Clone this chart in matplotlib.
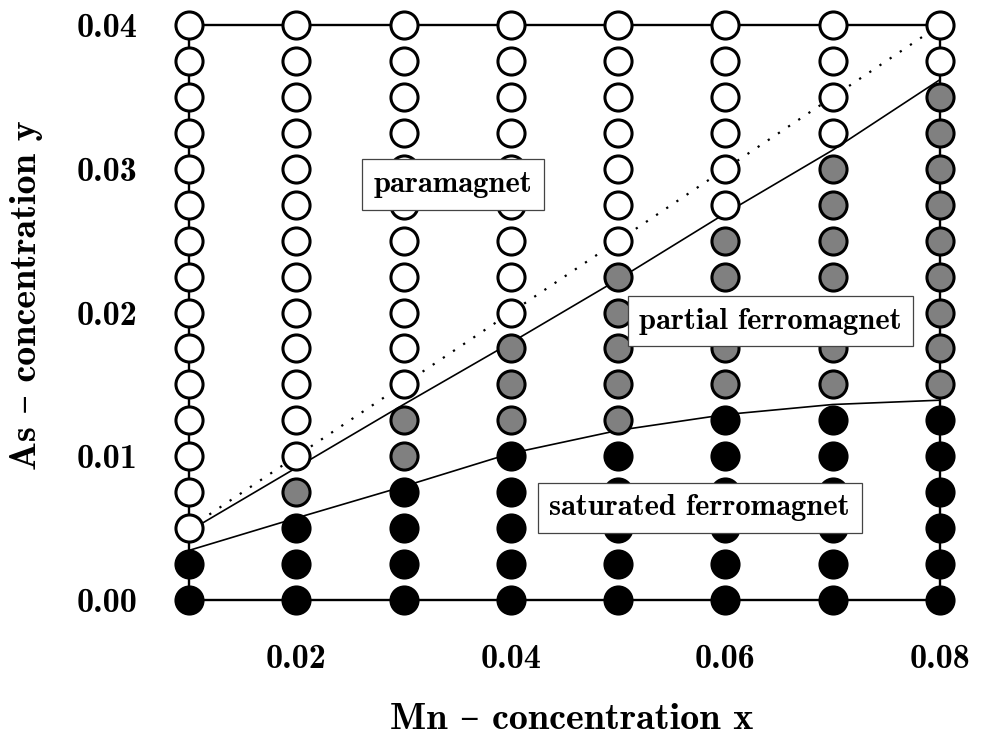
import numpy as np
import matplotlib
matplotlib.use("Agg")
import matplotlib.pyplot as plt

# Mn concentrations (columns) and As concentrations (rows)
mn_x = [0.01, 0.02, 0.03, 0.04, 0.05, 0.06, 0.07, 0.08]
as_y = [0.0, 0.0025, 0.005, 0.0075, 0.01, 0.0125, 0.015, 0.0175, 0.02,
        0.0225, 0.025, 0.0275, 0.03, 0.0325, 0.035, 0.0375, 0.04]

# number of points per column in each phase, counted from y=0 upwards
n_saturated = [2, 3, 4, 5, 5, 6, 6, 6]
n_partial = [0, 1, 2, 3, 5, 5, 7, 9]

# phase boundaries
dotted_y = [0.005, 0.04]
upper_y = [0.0048, 0.0092, 0.0136, 0.0179, 0.0223, 0.0269, 0.0313, 0.0362]
lower_y = [0.00345, 0.0057, 0.0079, 0.0102, 0.0118, 0.0129, 0.0136, 0.0139]

plt.rcParams['font.family'] = ['cmb10', 'DejaVu Serif']
plt.rcParams['font.weight'] = 'bold'

fig = plt.figure(figsize=(9.81, 7.36), dpi=100)
ax = fig.add_axes([0.1927, 0.1848, 0.7655, 0.7812])

ax.plot([mn_x[0], mn_x[-1]], dotted_y, color='black', lw=1.6,
        linestyle=(0, (1, 4.5)), zorder=1)
ax.plot(mn_x, upper_y, color='black', lw=1.2, zorder=1)
ax.plot(mn_x, lower_y, color='black', lw=1.2, zorder=1)

for i, x in enumerate(mn_x):
    for j, y in enumerate(as_y):
        if j < n_saturated[i]:
            c = 'black'
        elif j < n_saturated[i] + n_partial[i]:
            c = '#808080'
        else:
            c = 'white'
        ax.plot(x, y, 'o', ms=19.5, mfc=c, mec='black', mew=2.2,
                clip_on=False, zorder=3)

ax.set_xlim(0.01, 0.08)
ax.set_ylim(0.0, 0.04)
for s in ax.spines.values():
    s.set_linewidth(1.7)
    s.set_zorder(2)

ax.set_xticks([0.02, 0.04, 0.06, 0.08])
ax.set_xticklabels(['0.02', '0.04', '0.06', '0.08'])
ax.set_yticks([0.0, 0.01, 0.02, 0.03, 0.04])
ax.set_yticklabels(['0.00', '0.01', '0.02', '0.03', '0.04'])
ax.tick_params(axis='x', length=0, pad=32, labelsize=24.5)
ax.tick_params(axis='y', length=0, pad=37, labelsize=24.5)

ax.set_xlabel('Mn \u2013 concentration x', fontsize=27.5)
ax.set_ylabel('As \u2013 concentration y', fontsize=27.5)
ax.xaxis.set_label_coords(0.51, -0.18)
ax.yaxis.set_label_coords(-0.194, 0.53)

box = dict(boxstyle='square,pad=0.38', fc='white', ec='#444444', lw=0.9)
ax.text(0.0346, 0.0289, 'paramagnet', fontsize=22, ha='center',
        va='center', bbox=box, zorder=5)
ax.text(0.0642, 0.0194, 'partial ferromagnet', fontsize=22, ha='center',
        va='center', bbox=box, zorder=5)
ax.text(0.0576, 0.0064, 'saturated ferromagnet', fontsize=22, ha='center',
        va='center', bbox=box, zorder=5)

fig.savefig('out.png', dpi=100)
